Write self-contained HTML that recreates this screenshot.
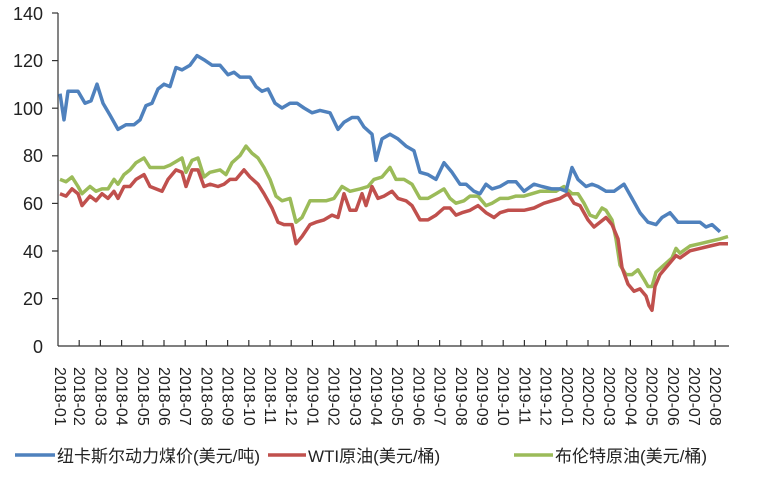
<!DOCTYPE html>
<html><head><meta charset="utf-8"><style>
body{margin:0;background:#fff;width:760px;height:477px;overflow:hidden}
text{font-family:"Liberation Sans","Noto Sans CJK SC",sans-serif;fill:#222}
</style></head><body>
<svg width="760" height="477" xmlns="http://www.w3.org/2000/svg">
<g stroke="#333" stroke-width="1.2" fill="none">
<line x1="58" y1="13" x2="58" y2="346"/>
<line x1="58" y1="346" x2="729" y2="346"/>
</g>
<g font-size="18" text-anchor="end">
<text x="43" y="20">140</text><text x="43" y="67">120</text><text x="43" y="115">100</text>
<text x="43" y="162">80</text><text x="43" y="210">60</text><text x="43" y="258">40</text>
<text x="43" y="305">20</text><text x="43" y="353">0</text>
</g>
<g stroke="#333" stroke-width="1.2">
<line x1="52" y1="13" x2="58" y2="13"/><line x1="52" y1="60.6" x2="58" y2="60.6"/><line x1="52" y1="108.2" x2="58" y2="108.2"/><line x1="52" y1="155.8" x2="58" y2="155.8"/><line x1="52" y1="203.4" x2="58" y2="203.4"/><line x1="52" y1="251" x2="58" y2="251"/><line x1="52" y1="298.6" x2="58" y2="298.6"/>
</g>
<g id="xt" stroke="#333" stroke-width="1.2"></g>
<g id="xl" font-size="16"></g>
<g fill="none" stroke-width="3.5" stroke-linejoin="round">
<polyline id="g" stroke="#9bbb59"/>
<polyline id="r" stroke="#c0504d"/>
<polyline id="b" stroke="#4f81bd"/>
</g>
<line x1="15" y1="455" x2="55" y2="455" stroke="#4f81bd" stroke-width="3.5"/>
<text x="57" y="462" font-size="17">纽卡斯尔动力煤价(美元/吨)</text>
<line x1="268" y1="455" x2="306" y2="455" stroke="#c0504d" stroke-width="3.5"/>
<text x="308" y="462" font-size="17">WTI原油(美元/桶)</text>
<line x1="514" y1="455" x2="553" y2="455" stroke="#9bbb59" stroke-width="3.5"/>
<text x="555" y="462" font-size="17">布伦特原油(美元/桶)</text>
</svg>
<script>
function Y(v){return 346-v*2.38}
function pts(a){var s=[];for(var i=0;i<a.length;i+=2)s.push(a[i]+","+Y(a[i+1]).toFixed(1));return s.join(" ")}
var B=[60,106,64,95,68,107,78,107,85,102,91,103,97,110,103,102,110,97,118,91,126,93,134,93,140,95,146,101,152,102,158,108,164,110,170,109,176,117,182,116,190,118,197,122,205,120,212,118,220,118,228,114,234,115,240,113,250,113,256,109,262,107,268,108,275,102,282,100,290,102,297,102,304,100,312,98,320,99,330,98,338,91,344,94,352,96,358,96,364,92,372,89,376,78,382,87,390,89,398,87,406,84,414,82,420,73,428,72,436,70,444,77,452,73,460,68,466,68,474,65,480,64,486,68,492,66,500,67,508,69,516,69,524,65,534,68,542,67,552,66,560,66,566,65,572,75,578,70,586,67,592,68,598,67,606,65,614,65,624,68,632,62,640,56,648,52,656,51,662,54,670,56,678,52,690,52,700,52,706,50,712,51,720,48];
var R=[60,64,66,63,72,66,78,64,82,59,90,63,96,61,102,64,108,62,114,65,118,62,124,67,130,67,136,70,144,72,150,67,156,66,162,65,168,70,176,74,182,73,186,67,192,74,198,74,204,67,210,68,218,67,224,68,230,70,236,70,244,74,250,71,258,68,264,64,272,58,278,52,284,51,292,51,296,43,302,46,310,51,316,52,324,53,332,55,338,54,344,64,350,57,356,57,362,64,366,59,372,67,378,62,384,63,392,65,398,62,406,61,412,59,420,53,428,53,436,55,444,58,450,58,456,55,462,56,470,57,478,59,486,56,494,54,500,56,508,57,516,57,524,57,534,58,544,60,552,61,560,62,568,64,574,60,580,59,588,53,594,50,600,52,606,54,612,51,618,45,622,33,628,26,634,23,640,24,646,21,649,17,652,15,655,25,660,30,670,35,676,38,680,37,690,40,700,41,710,42,720,43,728,43];
var G=[60,70,66,69,72,71,78,67,82,64,90,67,96,65,102,66,108,66,114,70,118,68,124,72,130,74,136,77,144,79,150,75,158,75,164,75,170,76,178,78,182,79,186,73,192,78,198,79,204,71,210,73,220,74,226,72,232,77,240,80,246,84,252,81,258,79,264,75,270,70,276,63,282,61,290,62,296,52,302,54,310,61,318,61,326,61,334,62,342,67,350,65,360,66,368,67,374,70,382,71,390,75,396,70,404,70,412,68,420,62,428,62,436,64,444,66,450,62,456,60,464,61,470,63,478,63,486,59,492,60,500,62,508,62,516,63,524,63,532,64,540,65,548,65,556,65,564,67,572,64,578,64,584,60,590,55,596,54,602,58,606,57,612,53,616,45,620,34,626,30,632,30,638,32,644,28,648,25,652,25,656,31,664,34,672,37,676,41,680,39,690,42,700,43,710,44,720,45,728,46];
document.getElementById('b').setAttribute('points',pts(B));
document.getElementById('r').setAttribute('points',pts(R));
document.getElementById('g').setAttribute('points',pts(G));
var xt=document.getElementById('xt'),xl=document.getElementById('xl'),ns="http://www.w3.org/2000/svg";
for(var k=0;k<32;k++){var x=58+k*21.2;
 if(k>0){var l=document.createElementNS(ns,'line');l.setAttribute('x1',x);l.setAttribute('x2',x);l.setAttribute('y1',340);l.setAttribute('y2',346);xt.appendChild(l);}
 var yr=2018+Math.floor(k/12),m=k%12+1;var t=document.createElementNS(ns,'text');
 t.setAttribute('transform','translate('+(x-5+(k==0?2:0))+',367) rotate(90)');t.textContent=yr+"-"+(m<10?"0":"")+m;xl.appendChild(t);}
</script>
</body></html>
